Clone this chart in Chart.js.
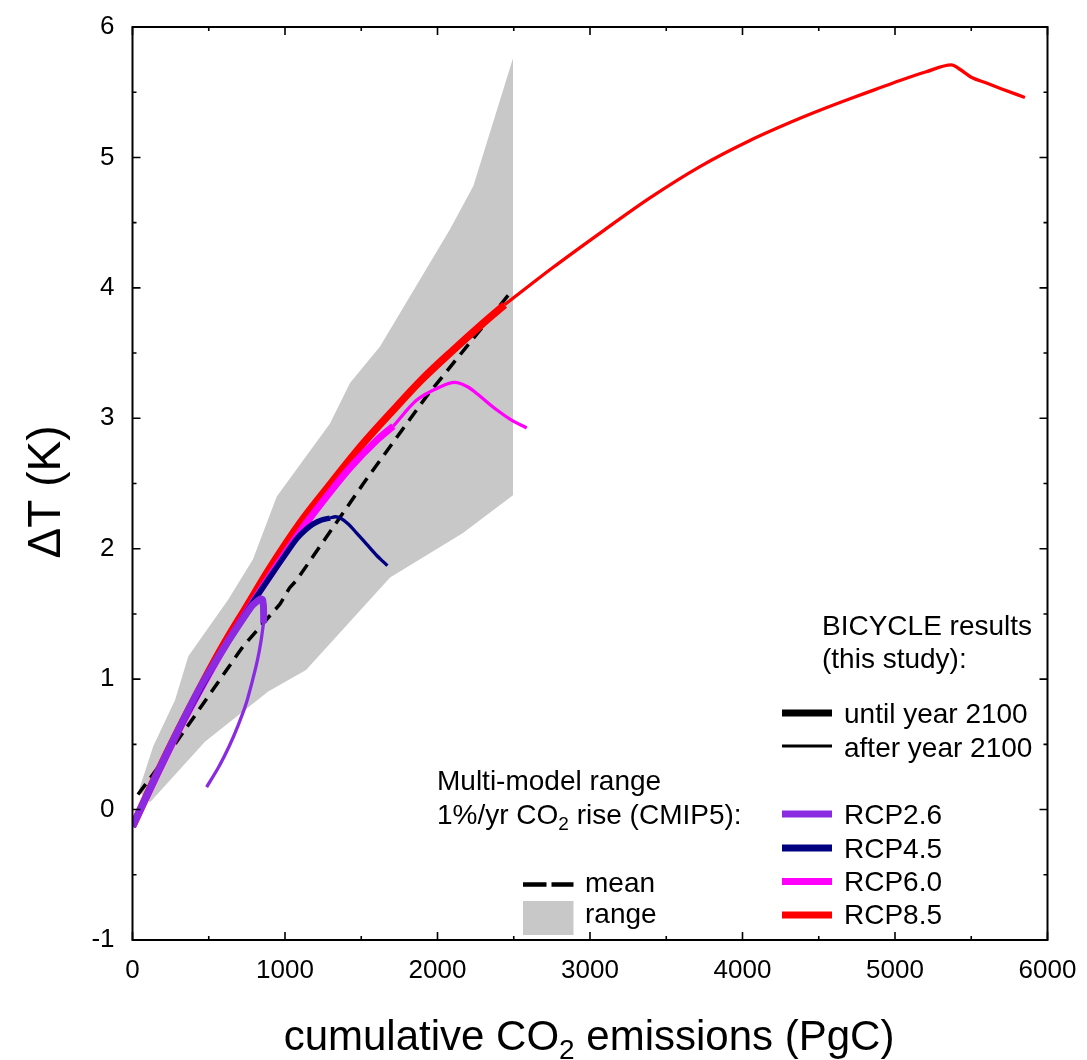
<!DOCTYPE html>
<html><head><meta charset="utf-8">
<script src="https://cdn.jsdelivr.net/npm/chart.js@4/dist/chart.umd.min.js"></script>
<style>html,body{margin:0;padding:0;background:#fff}#wrap{position:relative;width:1087px;height:1060px}</style>
</head><body><div id="wrap"><canvas id="c" width="1087" height="1060"></canvas></div>
<script>
const FONT = '"Liberation Sans", Arial, Helvetica, sans-serif';

// ---- tick values ----
const xTicks = [0, 1000, 2000, 3000, 4000, 5000, 6000];
const yTicks = [-1, 0, 1, 2, 3, 4, 5, 6];

// ---- CMIP5 multi-model range (polygon: upper edge then lower edge) ----
const rangeX = [40, 136, 279, 366, 628, 790, 946, 1295, 1426, 1623, 2082, 2235, 2495, 2495, 2167, 1689, 1138, 890, 475, 115];
const rangeY = [0.14, 0.485, 0.84, 1.175, 1.61, 1.92, 2.40, 2.96, 3.27, 3.55, 4.45, 4.78, 5.76, 2.41, 2.12, 1.78, 1.07, 0.905, 0.52, 0.056];

// ---- CMIP5 mean ----
const meanX = [36, 266, 724, 836, 967, 1030, 1077, 1514, 1929, 2475];
const meanY = [0.115, 0.48, 1.25, 1.40, 1.575, 1.70, 1.76, 2.50, 3.17, 3.96];

// ---- BICYCLE RCP8.5 ----
const rcp85ThickX = [0, 150, 300, 450, 600, 750, 900, 1100, 1300, 1500, 1700, 1900, 2100, 2300, 2440];
const rcp85ThickY = [-0.13, 0.25, 0.61, 0.95, 1.27, 1.56, 1.85, 2.2, 2.5, 2.79, 3.05, 3.3, 3.52, 3.73, 3.87];
const rcp85ThinX = [2440, 2750, 3066, 3393, 3721, 4049, 4377, 4541, 4705, 4869, 5033, 5200, 5370, 5420, 5500, 5600, 5700, 5852];
const rcp85ThinY = [3.87, 4.15, 4.42, 4.69, 4.93, 5.13, 5.30, 5.377, 5.45, 5.52, 5.59, 5.655, 5.71, 5.68, 5.615, 5.57, 5.525, 5.46];

// ---- BICYCLE RCP6.0 ----
const rcp60ThickX = [0, 150, 300, 450, 600, 750, 900, 1142, 1300, 1426, 1600, 1710];
const rcp60ThickY = [-0.13, 0.24, 0.6, 0.93, 1.24, 1.52, 1.79, 2.2, 2.44, 2.62, 2.83, 2.94];
const rcp60ThinX = [1710, 1864, 2016, 2110, 2200, 2257, 2388, 2480, 2585];
const rcp60ThinY = [2.94, 3.14, 3.24, 3.275, 3.24, 3.19, 3.065, 2.99, 2.925];

// ---- BICYCLE RCP4.5 ----
const rcp45ThickX = [0, 150, 300, 450, 600, 750, 900, 1000, 1080, 1140, 1186, 1240, 1295];
const rcp45ThickY = [-0.13, 0.24, 0.6, 0.93, 1.24, 1.52, 1.78, 1.95, 2.08, 2.15, 2.19, 2.22, 2.235];
const rcp45ThinX = [1295, 1330, 1370, 1415, 1470, 1535, 1600, 1640, 1672];
const rcp45ThinY = [2.235, 2.245, 2.23, 2.19, 2.12, 2.035, 1.95, 1.905, 1.87];

// ---- BICYCLE RCP2.6 ----
const rcp26ThickX = [0, 150, 300, 450, 600, 700, 782, 820, 840, 852, 858, 860, 860];
const rcp26ThickY = [-0.13, 0.25, 0.61, 0.95, 1.24, 1.42, 1.56, 1.60, 1.615, 1.61, 1.57, 1.50, 1.43];
const rcp26ThinX = [860, 843, 820, 784, 743, 692, 634, 567, 486];
const rcp26ThinY = [1.44, 1.295, 1.149, 0.977, 0.805, 0.644, 0.485, 0.33, 0.172];

const colRange = '#c8c8c8';
const col26 = '#8a2be2', col45 = '#000080', col60 = '#ff00ff', col85 = '#ff0000';

const pts = (xs, ys) => xs.map((x, i) => ({x: x, y: ys[i]}));
function line(xs, ys, color, width, order, tension) {
  const d = {data: pts(xs, ys), showLine: true, borderColor: color, backgroundColor: color,
    borderWidth: width, pointRadius: 0, fill: false, order: order,
    borderCapStyle: 'butt', borderJoinStyle: 'round'};
  if (tension === 'mono') { d.cubicInterpolationMode = 'monotone'; d.tension = 0.4; }
  else d.tension = tension;
  return d;
}

const datasets = [
  {data: pts(rangeX, rangeY), showLine: true, fill: 'shape', backgroundColor: colRange,
   borderColor: 'rgba(0,0,0,0)', borderWidth: 0, pointRadius: 0, tension: 0, order: 20},
  Object.assign(line(meanX, meanY, '#000', 3.5, 19, 0), {borderDash: [13, 8]}),
  line(rcp85ThickX, rcp85ThickY, col85, 7.5, 18, 'mono'),
  line(rcp85ThinX, rcp85ThinY, col85, 3.3, 17, 'mono'),
  line(rcp60ThickX, rcp60ThickY, col60, 7, 16, 'mono'),
  line(rcp60ThinX, rcp60ThinY, col60, 3.3, 15, 'mono'),
  line(rcp45ThickX, rcp45ThickY, col45, 5.5, 14, 'mono'),
  line(rcp45ThinX, rcp45ThinY, col45, 3.3, 13, 'mono'),
  line(rcp26ThickX, rcp26ThickY, col26, 7, 12, 0.2),
  line(rcp26ThinX, rcp26ThinY, col26, 3.3, 11, 0.3)
];

function subText(ctx, parts, x, y, align) {
  // parts: [text, size, dy]
  let total = 0;
  for (const p of parts) { ctx.font = p[1] + 'px ' + FONT; total += ctx.measureText(p[0]).width; }
  let cx = align === 'center' ? x - total / 2 : x;
  ctx.textAlign = 'left';
  for (const p of parts) {
    ctx.font = p[1] + 'px ' + FONT;
    ctx.fillText(p[0], cx, y + p[2]);
    cx += ctx.measureText(p[0]).width;
  }
}

const framePlugin = {
  id: 'frame',
  afterDraw(chart) {
    const {ctx, chartArea: a, scales: {x, y}} = chart;
    ctx.save();
    ctx.strokeStyle = '#000';
    ctx.lineWidth = 2;
    ctx.strokeRect(a.left, a.top, a.right - a.left, a.bottom - a.top);
    ctx.lineWidth = 1.6;
    ctx.beginPath();
    for (let i = 0; i < xTicks.length; i++) {
      const px = x.getPixelForValue(xTicks[i]);
      ctx.moveTo(px, a.bottom); ctx.lineTo(px, a.bottom - 8);
      ctx.moveTo(px, a.top); ctx.lineTo(px, a.top + 8);
      if (i < xTicks.length - 1) {
        const m = x.getPixelForValue((xTicks[i] + xTicks[i + 1]) / 2);
        ctx.moveTo(m, a.bottom); ctx.lineTo(m, a.bottom - 4);
        ctx.moveTo(m, a.top); ctx.lineTo(m, a.top + 4);
      }
    }
    for (let i = 0; i < yTicks.length; i++) {
      const py = y.getPixelForValue(yTicks[i]);
      ctx.moveTo(a.left, py); ctx.lineTo(a.left + 8, py);
      ctx.moveTo(a.right, py); ctx.lineTo(a.right - 8, py);
      if (i < yTicks.length - 1) {
        const m = y.getPixelForValue((yTicks[i] + yTicks[i + 1]) / 2);
        ctx.moveTo(a.left, m); ctx.lineTo(a.left + 4, m);
        ctx.moveTo(a.right, m); ctx.lineTo(a.right - 4, m);
      }
    }
    ctx.stroke();

    // axis titles
    ctx.fillStyle = '#000';
    ctx.textBaseline = 'alphabetic';
    subText(ctx, [['cumulative CO', 42, 0], ['2', 28, 9], [' emissions (PgC)', 42, 0]], 589, 1050, 'center');
    ctx.save();
    ctx.translate(60, 492);
    ctx.rotate(-Math.PI / 2);
    ctx.font = '46px ' + FONT;
    ctx.textAlign = 'center';
    ctx.fillText('\u0394T (K)', 0, 0);
    ctx.restore();

    // BICYCLE legend
    ctx.font = '28px ' + FONT;
    ctx.textAlign = 'left';
    ctx.fillText('BICYCLE results', 822, 635);
    ctx.fillText('(this study):', 822, 668);
    const lx0 = 782, lx1 = 832, tx = 844;
    const legendLines = [
      ['until year 2100', '#000', 7, 713, 723],
      ['after year 2100', '#000', 3, 746, 756.5],
      ['RCP2.6', col26, 7, 814, 824],
      ['RCP4.5', col45, 7, 848, 857.5],
      ['RCP6.0', col60, 7, 881.5, 891],
      ['RCP8.5', col85, 7, 915, 924]
    ];
    for (const L of legendLines) {
      ctx.strokeStyle = L[1]; ctx.lineWidth = L[2];
      ctx.beginPath(); ctx.moveTo(lx0, L[3]); ctx.lineTo(lx1, L[3]); ctx.stroke();
      ctx.fillStyle = '#000';
      ctx.fillText(L[0], tx, L[4]);
    }

    // CMIP5 legend
    ctx.fillText('Multi-model range', 437, 790);
    subText(ctx, [['1%/yr CO', 28, 0], ['2', 19, 6], [' rise (CMIP5):', 28, 0]], 437, 824, 'left');
    ctx.strokeStyle = '#000'; ctx.lineWidth = 4.3;
    ctx.beginPath();
    ctx.moveTo(523, 884.5); ctx.lineTo(546.5, 884.5);
    ctx.moveTo(551.5, 884.5); ctx.lineTo(573.5, 884.5);
    ctx.stroke();
    ctx.fillStyle = colRange;
    ctx.fillRect(523, 901, 50.5, 34);
    ctx.fillStyle = '#000';
    ctx.font = '28px ' + FONT;
    ctx.fillText('mean', 585, 892);
    ctx.fillText('range', 585, 923);
    ctx.restore();
  }
};

new Chart(document.getElementById('c'), {
  type: 'scatter',
  data: {datasets: datasets},
  plugins: [framePlugin],
  options: {
    responsive: false,
    animation: false,
    events: [],
    devicePixelRatio: 1,
    layout: {padding: {top: 27, right: 39.5, left: 0, bottom: 0}},
    plugins: {legend: {display: false}, tooltip: {enabled: false}},
    scales: {
      x: {
        type: 'linear', min: 0, max: 6000,
        afterBuildTicks(s) { s.ticks = xTicks.map(v => ({value: v})); },
        ticks: {autoSkip: false, maxRotation: 0, color: '#000', padding: 15,
                font: {family: FONT, size: 26}, callback: v => String(v)},
        grid: {display: false, drawTicks: false},
        border: {display: false},
        afterFit(s) { s.height = 120; s.paddingLeft = 0; s.paddingRight = 0; }
      },
      y: {
        type: 'linear', min: -1, max: 6,
        afterBuildTicks(s) { s.ticks = yTicks.map(v => ({value: v})); },
        ticks: {autoSkip: false, color: '#000', padding: 18,
                font: {family: FONT, size: 26}, callback: v => String(v)},
        grid: {display: false, drawTicks: false},
        border: {display: false},
        afterFit(s) { s.width = 132.5; s.paddingTop = 0; s.paddingBottom = 0; }
      }
    }
  }
});
</script></body></html>
